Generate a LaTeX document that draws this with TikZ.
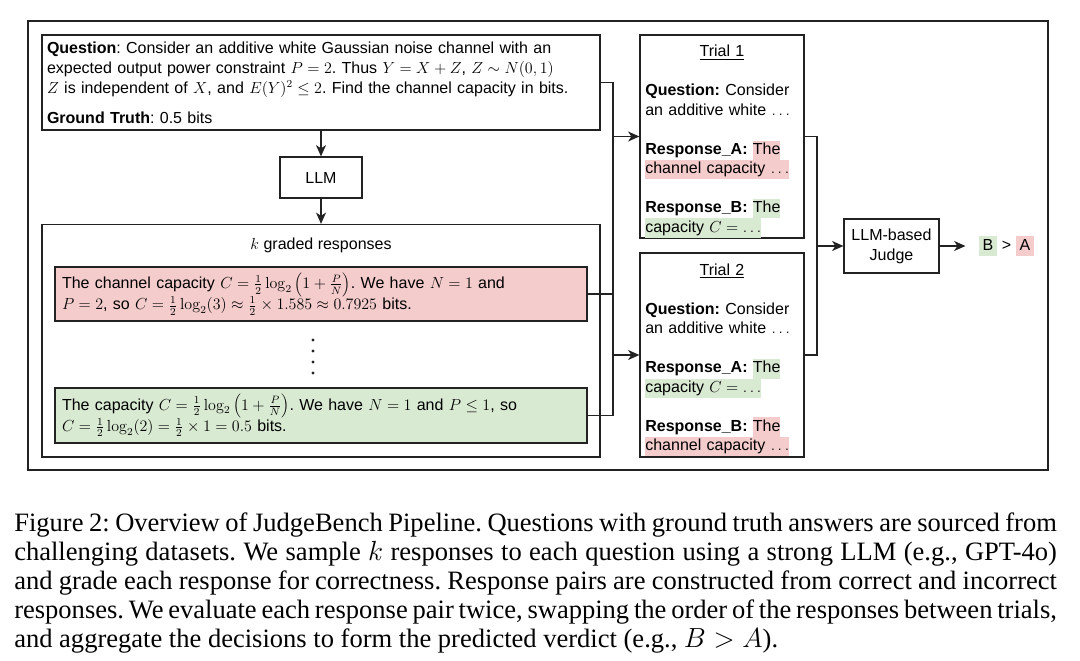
\documentclass[tikz,border=0pt]{standalone}
\usepackage[no-math]{fontspec}
\setmainfont{Liberation Serif}
\setsansfont{Liberation Sans}
\usetikzlibrary{arrows.meta}
\frenchspacing

\definecolor{edge}{HTML}{222222}
\definecolor{hlred}{HTML}{F4CCCC}
\definecolor{hlgreen}{HTML}{D9EAD3}

\newcommand{\diagfont}{\sffamily\fontsize{12}{15}\selectfont}
\newcommand{\respfont}{\sffamily\fontsize{12}{16}\selectfont}
\newcommand{\trialfont}{\sffamily\fontsize{12}{14.6}\selectfont}
\newcommand{\capfont}{\rmfamily\fontsize{19.9}{21.75}\selectfont}
\newcommand{\hlr}[1]{{\setlength{\fboxsep}{0pt}\colorbox{hlred}{\strut#1}}}
\newcommand{\hlg}[1]{{\setlength{\fboxsep}{0pt}\colorbox{hlgreen}{\strut#1}}}
\newcommand{\etc}{$\ldots$}
\newcommand{\trialhead}[1]{\rule{0pt}{16.3pt}\makebox[115pt]{\underline{#1}}}

\begin{document}
\begin{tikzpicture}[x=0.75pt, y=-0.75pt, >={Stealth[length=8.5pt,width=7.5pt,inset=2.5pt]},
  every node/.style={font=\diagfont},
  box/.style={draw=edge, line width=0.9pt},
  link/.style={draw=edge, line width=0.9pt},
  resp/.style={box, minimum width=399pt, text width=388.5pt, inner xsep=5.25pt, align=left, font=\respfont},
  trial/.style={box, minimum width=123pt, text width=115pt, inner xsep=4pt, inner ysep=0pt, align=left, font=\trialfont}]

\useasboundingbox (0,0) rectangle (1080,660);

% outer frame
\draw[link] (28,21) rectangle (1048,470);

% Question and LLM
\node[box, minimum width=418.5pt, minimum height=71.25pt, text width=411pt, inner xsep=3.75pt, align=left] (qbox) at (321,82.5)
  {\textbf{Question}: Consider an additive white Gaussian noise channel with an\\
   expected output power constraint $P=2$. Thus $Y=X+Z$, $Z\sim N(0,1)$\\
   $Z$ is independent of $X$, and $E(Y)^2\leq 2$. Find the channel capacity in bits.\\[7.5pt]
   \textbf{Ground Truth}: 0.5 bits};
\node[box, minimum width=61.5pt, minimum height=30.75pt] (llm) at (321,177.5) {LLM};

% graded responses
\node[box, minimum width=418.5pt, minimum height=174.4pt] (graded) at (321,340.75) {};
\node (ktitle) at (321,245) {$k$ graded responses};
\node[resp, fill=hlred, minimum height=40.5pt] (wrong) at (321,294)
  {The channel capacity $C=\frac{1}{2}\log_2\left(1+\frac{P}{N}\right)$. We have $N=1$ and\\
   $P=2$, so $C=\frac{1}{2}\log_2(3)\approx\frac{1}{2}\times 1.585\approx 0.7925$ bits.};
\node[resp, fill=hlgreen, minimum height=41.25pt] (right) at (321,415.5)
  {The capacity $C=\frac{1}{2}\log_2\left(1+\frac{P}{N}\right)$. We have $N=1$ and $P\leq 1$, so\\
   $C=\frac{1}{2}\log_2(2)=\frac{1}{2}\times 1=0.5$ bits.};
\foreach \i in {0,...,3}
  \fill[edge] (313,340+11*\i) circle (1.3pt);

% trials
\node[trial, minimum height=152.25pt] (trialA) at (722,136.5)
  {\trialhead{Trial 1}\\[14.6pt]
   \textbf{Question:} Consider\\
   an additive white \etc\\[14.6pt]
   \textbf{Response\_A:} \hlr{The}\\
   \hlr{channel capacity \etc}\\[14.6pt]
   \textbf{Response\_B:} \hlg{The}\\
   \hlg{capacity $C=\ldots$}};
\node[trial, minimum height=153pt] (trialB) at (722,355)
  {\trialhead{Trial 2}\\[14.6pt]
   \textbf{Question:} Consider\\
   an additive white \etc\\[14.6pt]
   \textbf{Response\_A:} \hlg{The}\\
   \hlg{capacity $C=\ldots$}\\[14.6pt]
   \textbf{Response\_B:} \hlr{The}\\
   \hlr{channel capacity \etc}};

% judge and verdict
\node[box, minimum width=71.25pt, minimum height=40.5pt, align=center] (judge) at (891.5,246) {LLM-based\\Judge};
\node[inner xsep=9.75pt, inner ysep=0pt] (verdict) at (1006.5,246)
  {\hlg{\hspace{3pt}B\hspace{3pt}} > \hlr{\hspace{3pt}A\hspace{3pt}}};

% connectors
\coordinate (bus) at (613,0);
\coordinate (merge) at (817,0);
\draw[link,->] (qbox.south) -- (llm.north);
\draw[link,->] (llm.south) -- (graded.north);
\draw[link] (qbox.east) -| (bus |- right.east) -- (right.east);
\draw[link] (wrong.east) -- (bus |- wrong.east);
\draw[link,->] (bus |- trialA.west) -- (trialA.west);
\draw[link,->] (bus |- trialB.west) -- (trialB.west);
\draw[link] (trialA.east) -| (merge |- trialB.east) -- (trialB.east);
\draw[link,->] (merge |- judge.west) -- (judge.west);
\draw[link,->] (judge.east) -- (verdict.west);

% caption
\node[anchor=base west, text width=782pt, align=justify, inner sep=0pt, font=\capfont] (caption) at (14,531)
  {Figure 2: Overview of JudgeBench Pipeline. Questions with ground truth answers are sourced from\linebreak
   challenging datasets. We sample $k$ responses to each question using a strong LLM (e.g., GPT-4o)\linebreak
   and grade each response for correctness. Response pairs are constructed from correct and incorrect\linebreak
   responses. We evaluate each response pair twice, swapping the order of the responses between trials,\linebreak
   and aggregate the decisions to form the predicted verdict (e.g., $B>A$).};

\end{tikzpicture}
\end{document}
